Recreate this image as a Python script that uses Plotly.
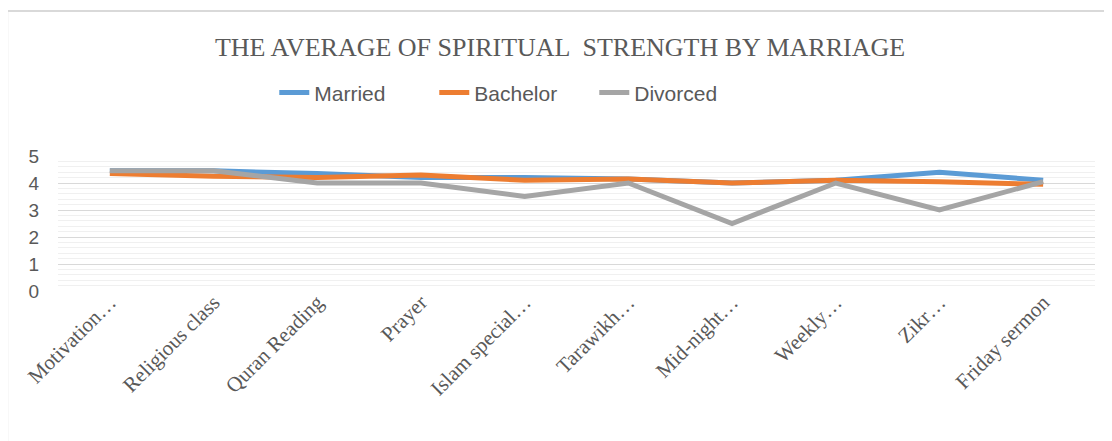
import plotly.graph_objects as go

categories = ['Motivation…', 'Religious class', 'Quran Reading', 'Prayer', 'Islam special…',
              'Tarawikh…', 'Mid-night…', 'Weekly…', 'Zikr…', 'Friday sermon']
married = [4.45, 4.45, 4.35, 4.2, 4.2, 4.15, 4.0, 4.1, 4.4, 4.1]
bachelor = [4.35, 4.25, 4.2, 4.3, 4.1, 4.15, 4.0, 4.1, 4.05, 3.95]
divorced = [4.45, 4.45, 4.0, 4.0, 3.5, 4.0, 2.5, 4.0, 3.0, 4.05]

series = [
    ('Married', married, '#5B9BD5'),
    ('Bachelor', bachelor, '#ED7D31'),
    ('Divorced', divorced, '#A5A5A5'),
]

fig = go.Figure()
for name, vals, color in series:
    fig.add_trace(go.Scatter(
        x=categories,
        y=vals,
        mode='lines',
        name=name,
        line=dict(color=color, width=5)
    ))

# page body has an 8px margin, so the figure is sized to fit inside it
fig.update_layout(
    width=1104,
    height=433,
    margin=dict(l=50, r=17, t=148, b=150),
    paper_bgcolor='white',
    plot_bgcolor='white',
    title=dict(
        text='THE AVERAGE OF SPIRITUAL  STRENGTH BY MARRIAGE',
        x=0.5, xanchor='center', y=0.91, yanchor='middle',
        font=dict(family='Liberation Serif', size=26, color='#595959')
    ),
    legend=dict(
        orientation='h',
        x=0.44, xanchor='center',
        y=1.467, yanchor='middle',
        font=dict(family='Liberation Sans', size=21, color='#595959'),
        entrywidth=115,
        tracegroupgap=0
    ),
    xaxis=dict(
        range=[-0.5, 9.5],
        tickangle=-45,
        tickfont=dict(family='Liberation Serif', size=21, color='#595959'),
        ticklabelstandoff=-6,
        showgrid=False,
        showline=False,
        ticks=''
    ),
    yaxis=dict(
        range=[0, 5],
        dtick=1,
        tickfont=dict(family='Liberation Sans', size=19, color='#595959'),
        ticklabelstandoff=18,
        gridcolor='#d9d9d9',
        zeroline=False,
        showline=False,
        minor=dict(dtick=0.2, showgrid=True, gridcolor='#f0f0f0')
    ),
    shapes=[dict(
        type='rect', xref='paper', yref='paper',
        x0=-0.049, x1=1.04, y0=-1.2, y1=2.074,
        line=dict(color='#d9d9d9', width=2)
    )]
)

fig.write_html("out.html")
